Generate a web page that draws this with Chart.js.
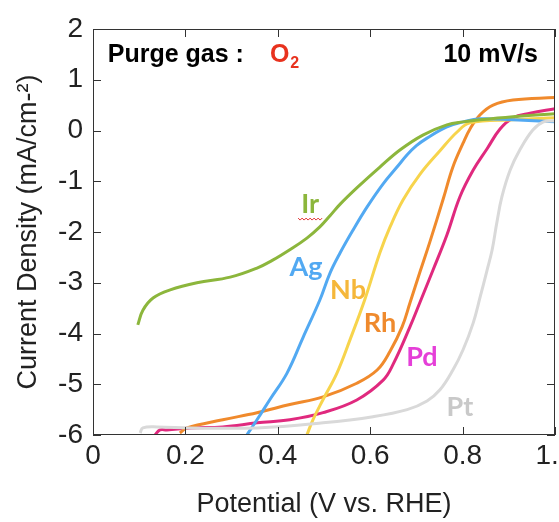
<!DOCTYPE html>
<html>
<head>
<meta charset="utf-8">
<script src="https://cdn.jsdelivr.net/npm/chart.js@4"></script>
<style>
  html, body { margin: 0; padding: 0; background: #fff; }
  canvas { display: block; }
</style>
</head>
<body>
<canvas id="chart" width="559" height="522"></canvas>
<script>
// values (potential V vs RHE, current density mA/cm2)
const ptX = [0.102, 0.108, 0.139, 0.210, 0.355, 0.498, 0.606, 0.680, 0.723, 0.751, 0.779, 0.801, 0.823, 0.838, 0.853, 0.864, 0.874, 0.885, 0.903, 0.924, 0.952, 0.975, 1.0];
const ptY = [-5.96, -5.86, -5.84, -5.86, -5.86, -5.76, -5.64, -5.50, -5.33, -5.11, -4.72, -4.32, -3.79, -3.28, -2.75, -2.35, -1.82, -1.31, -0.78, -0.38, 0.01, 0.17, 0.19];

const irX = [0.097, 0.108, 0.130, 0.167, 0.225, 0.297, 0.355, 0.390, 0.426, 0.463, 0.491, 0.513, 0.535, 0.571, 0.621, 0.665, 0.714, 0.766, 0.801, 0.838, 0.909, 1.0];
const irY = [-3.83, -3.54, -3.30, -3.14, -3.00, -2.89, -2.71, -2.55, -2.35, -2.12, -1.90, -1.68, -1.45, -1.13, -0.72, -0.38, -0.09, 0.11, 0.17, 0.21, 0.27, 0.33];

const agX = [0.333, 0.355, 0.383, 0.420, 0.455, 0.491, 0.513, 0.535, 0.563, 0.593, 0.628, 0.658, 0.680, 0.700, 0.723, 0.766, 0.801, 0.838, 0.909, 1.0];
const agY = [-6.0, -5.70, -5.30, -4.78, -4.07, -3.34, -2.81, -2.41, -1.96, -1.51, -1.05, -0.72, -0.48, -0.30, -0.15, 0.07, 0.17, 0.23, 0.21, 0.17];

const nbX = [0.463, 0.476, 0.498, 0.528, 0.556, 0.588, 0.621, 0.643, 0.671, 0.708, 0.751, 0.788, 0.816, 0.909, 1.0];
const nbY = [-6.0, -5.70, -5.30, -4.78, -4.13, -3.34, -2.41, -1.90, -1.37, -0.86, -0.40, -0.03, 0.15, 0.21, 0.25];

const rhX = [0.188, 0.203, 0.281, 0.355, 0.426, 0.498, 0.571, 0.615, 0.643, 0.669, 0.686, 0.708, 0.729, 0.758, 0.779, 0.801, 0.816, 0.838, 0.866, 0.909, 1.0];
const rhY = [-5.96, -5.86, -5.70, -5.56, -5.40, -5.25, -4.98, -4.72, -4.35, -3.87, -3.40, -2.78, -2.20, -1.35, -0.72, -0.25, 0.03, 0.31, 0.50, 0.60, 0.65];

const pdX = [0.134, 0.145, 0.160, 0.210, 0.281, 0.355, 0.426, 0.498, 0.571, 0.628, 0.650, 0.686, 0.708, 0.736, 0.766, 0.794, 0.823, 0.853, 0.881, 0.909, 0.946, 1.0];
const pdY = [-6.0, -5.90, -5.90, -5.86, -5.84, -5.76, -5.70, -5.56, -5.31, -4.92, -4.60, -3.87, -3.38, -2.75, -2.06, -1.31, -0.78, -0.36, 0.03, 0.25, 0.34, 0.43];

// curve labels, placed in data units
const labelNames = ['Ir', 'Ag', 'Nb', 'Rh', 'Pd', 'Pt'];
const labelX = [0.470, 0.461, 0.552, 0.621, 0.712, 0.794];
const labelY = [-1.45, -2.69, -3.14, -3.79, -4.46, -5.45];
const labelColors = ['#8cb63c', '#52a9f2', '#f5b73a', '#ef8a2d', '#e53fd8', '#c9c9c9'];

const xTicks = [0, 0.2, 0.4, 0.6, 0.8, 1];
const yTicks = [-6, -5, -4, -3, -2, -1, 0, 1, 2];

function pts(xs, ys) {
  return xs.map((x, i) => ({x: x, y: ys[i]}));
}

function series(label, xs, ys, color) {
  return {
    label: label,
    data: pts(xs, ys),
    borderColor: color,
    borderWidth: 3,
    pointRadius: 0,
    fill: false,
    tension: 0.4
  };
}

const framePlugin = {
  id: 'frame',
  afterDraw(chart) {
    const ctx = chart.ctx;
    const a = chart.chartArea;
    const xs = chart.scales.x, ys = chart.scales.y;
    ctx.save();
    ctx.strokeStyle = '#333';
    ctx.lineWidth = 1;
    ctx.strokeRect(a.left + 0.5, a.top + 0.5, a.right - a.left - 1, a.bottom - a.top - 1);
    ctx.beginPath();
    xTicks.forEach(v => {
      const px = Math.round(xs.getPixelForValue(v)) + 0.5;
      ctx.moveTo(px, a.bottom); ctx.lineTo(px, a.bottom - 8);
      ctx.moveTo(px, a.top); ctx.lineTo(px, a.top + 8);
    });
    yTicks.forEach(v => {
      const py = Math.round(ys.getPixelForValue(v)) + 0.5;
      ctx.moveTo(a.left, py); ctx.lineTo(a.left + 8, py);
      ctx.moveTo(a.right, py); ctx.lineTo(a.right - 8, py);
    });
    ctx.stroke();

    // header texts
    ctx.textBaseline = 'alphabetic';
    ctx.font = 'bold 25px "Liberation Sans", Arial, sans-serif';
    ctx.fillStyle = '#000';
    ctx.textAlign = 'left';
    const hx = xs.getPixelForValue(0.032);
    const hy = ys.getPixelForValue(1.35);
    const head = 'Purge gas :';
    ctx.fillText(head, hx, hy);
    const ox = hx + ctx.measureText(head).width + 26;
    ctx.fillStyle = '#e8321e';
    ctx.fillText('O', ox, hy);
    const ow = ctx.measureText('O').width;
    ctx.font = 'bold 16px "Liberation Sans", Arial, sans-serif';
    ctx.fillText('2', ox + ow + 1, hy + 6);
    ctx.font = 'bold 25px "Liberation Sans", Arial, sans-serif';
    ctx.fillStyle = '#000';
    ctx.textAlign = 'right';
    ctx.fillText('10 mV/s', xs.getPixelForValue(0.963), hy);

    // curve labels
    ctx.font = 'bold 27px Lato, "Open Sans", sans-serif';
    ctx.textAlign = 'center';
    ctx.textBaseline = 'middle';
    labelNames.forEach((n, i) => {
      ctx.fillStyle = labelColors[i];
      ctx.fillText(n, xs.getPixelForValue(labelX[i]), ys.getPixelForValue(labelY[i]));
    });

    // red spell-check squiggle under "Ir"
    const sx = xs.getPixelForValue(labelX[0]) - 12;
    const sy = ys.getPixelForValue(labelY[0]) + 14;
    ctx.strokeStyle = '#e03030';
    ctx.lineWidth = 1;
    ctx.beginPath();
    ctx.moveTo(sx, sy);
    for (let k = 1; k <= 12; k++) {
      ctx.lineTo(sx + k * 2, sy + (k % 2 ? 2 : 0));
    }
    ctx.stroke();
    ctx.restore();
  }
};

const tickFont = {family: '"Liberation Sans", Arial, sans-serif', size: 28};
const titleFont = {family: '"Liberation Sans", Arial, sans-serif', size: 27, lineHeight: 1.2};

new Chart(document.getElementById('chart').getContext('2d'), {
  type: 'line',
  data: {
    datasets: [
      series('Pt', ptX, ptY, '#d9d9d9'),
      series('Ir', irX, irY, '#8cb63c'),
      series('Ag', agX, agY, '#52a9f2'),
      series('Nb', nbX, nbY, '#f7d44c'),
      series('Rh', rhX, rhY, '#f08a2c'),
      series('Pd', pdX, pdY, '#e0297e')
    ]
  },
  options: {
    responsive: false,
    animation: false,
    devicePixelRatio: 1,
    layout: {padding: {top: 29, right: 4, left: 0, bottom: 0}},
    plugins: {legend: {display: false}, tooltip: {enabled: false}},
    scales: {
      x: {
        type: 'linear',
        min: 0,
        max: 1,
        afterBuildTicks: s => { s.ticks = xTicks.map(v => ({value: v})); },
        ticks: {font: tickFont, color: '#222', padding: 4, maxRotation: 0},
        grid: {display: false, drawTicks: false},
        border: {display: false},
        title: {display: true, text: 'Potential (V vs. RHE)', font: titleFont, color: '#222', padding: {top: 0, bottom: 1}},
        afterFit: s => { s.height = 87; s.paddingLeft = 0; s.paddingRight = 0; }
      },
      y: {
        min: -6,
        max: 2,
        afterBuildTicks: s => { s.ticks = yTicks.map(v => ({value: v})); },
        ticks: {font: tickFont, color: '#222', padding: 10},
        grid: {display: false, drawTicks: false},
        border: {display: false},
        title: {display: true, text: 'Current Density (mA/cm-\u00b2)', font: titleFont, color: '#222', padding: {top: 12, bottom: 0}},
        afterFit: s => { s.width = 93; s.paddingTop = 0; s.paddingBottom = 0; }
      }
    }
  },
  plugins: [framePlugin]
});
</script>
</body>
</html>
